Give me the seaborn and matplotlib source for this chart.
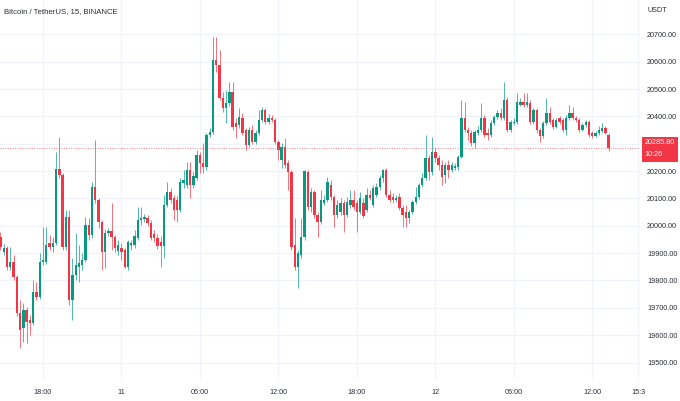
import numpy as np
import pandas as pd
import matplotlib
matplotlib.use('Agg')
import matplotlib.pyplot as plt
from matplotlib.patches import Rectangle
import seaborn as sns

# BTC/USDT 15m candles (index 0 = day 10, 14:45)
opens = [19959, 19904, 19918, 19849, 19867, 19812, 19681, 19626, 19692, 19655,
         19644, 19757, 19739, 19867, 19867, 19937, 19922, 19937, 20207, 20185,
         19922, 20032, 19728, 19820, 19849, 19856, 19874, 20002, 19966, 20141,
         20094, 20013, 19904, 19973, 19981, 19959, 19907, 19918, 19911, 19849,
         19929, 19929, 19955, 20021, 20024, 20028, 20010, 19970, 19955, 19940,
         19926, 20075, 20123, 20101, 20094, 20057, 20156, 20149, 20203, 20149,
         20174, 20258, 20229, 20214, 20332, 20343, 20606, 20587, 20467, 20430,
         20448, 20489, 20375, 20368, 20394, 20350, 20295, 20350, 20306, 20339,
         20386, 20423, 20379, 20394, 20386, 20306, 20240, 20288, 20229, 20196,
         19929, 19849, 19893, 19959, 20196, 20068, 20123, 20039, 20013, 20083,
         20094, 20149, 20105, 20039, 20050, 20083, 20039, 20075, 20094, 20083,
         20050, 20083, 20057, 20112, 20075, 20112, 20141, 20174, 20203, 20112,
         20105, 20094, 20105, 20065, 20050, 20028, 20050, 20086, 20105, 20149,
         20174, 20247, 20196, 20269, 20247, 20222, 20185, 20222, 20203, 20211,
         20214, 20251, 20394, 20350, 20339, 20302, 20339, 20350, 20394, 20339,
         20332, 20375, 20397, 20412, 20394, 20459, 20350, 20375, 20379, 20441,
         20452, 20441, 20448, 20379, 20423, 20350, 20328, 20375, 20412, 20386,
         20361, 20394, 20386, 20350, 20394, 20412, 20394, 20386, 20350, 20368,
         20379, 20339, 20328, 20339, 20346, 20357, 20332]
highs = [19977, 19933, 19926, 19922, 19893, 19820, 19728, 19717, 19703, 19673,
         19801, 19794, 19900, 19995, 19995, 19966, 19959, 20269, 20324, 20192,
         20057, 20057, 19882, 19973, 19929, 19900, 20032, 20028, 20160, 20313,
         20101, 20021, 19988, 19991, 20083, 19966, 19948, 19937, 19918, 19948,
         19948, 19984, 20068, 20068, 20043, 20039, 20021, 19984, 19970, 19962,
         20112, 20160, 20138, 20112, 20108, 20174, 20203, 20233, 20233, 20196,
         20277, 20269, 20302, 20339, 20357, 20690, 20690, 20642, 20489, 20496,
         20525, 20525, 20394, 20430, 20412, 20357, 20361, 20368, 20350, 20423,
         20434, 20430, 20408, 20405, 20394, 20313, 20302, 20321, 20240, 20203,
         20028, 19911, 20028, 20203, 20203, 20138, 20130, 20050, 20130, 20112,
         20178, 20167, 20112, 20094, 20101, 20094, 20105, 20130, 20130, 20094,
         20123, 20101, 20138, 20130, 20149, 20156, 20185, 20207, 20211, 20130,
         20119, 20112, 20119, 20075, 20075, 20057, 20094, 20141, 20156, 20192,
         20332, 20258, 20324, 20284, 20258, 20240, 20233, 20240, 20233, 20229,
         20258, 20459, 20452, 20361, 20350, 20350, 20364, 20448, 20405, 20357,
         20386, 20405, 20423, 20430, 20525, 20470, 20386, 20394, 20485, 20467,
         20485, 20485, 20459, 20430, 20430, 20357, 20383, 20467, 20434, 20394,
         20394, 20401, 20394, 20405, 20441, 20434, 20401, 20394, 20375, 20386,
         20386, 20346, 20346, 20364, 20375, 20364, 20339]
lows = [19911, 19893, 19838, 19838, 19801, 19670, 19553, 19575, 19571, 19600,
        19637, 19728, 19732, 19856, 19860, 19911, 19904, 19929, 20174, 19911,
        19911, 19710, 19655, 19801, 19794, 19838, 19867, 19948, 19955, 20083,
        19991, 19838, 19845, 19962, 19911, 19904, 19893, 19874, 19845, 19838,
        19911, 19918, 19948, 20002, 20013, 19999, 19948, 19940, 19915, 19849,
        19882, 20068, 20083, 20021, 20013, 20050, 20138, 20138, 20101, 20138,
        20167, 20192, 20192, 20203, 20324, 20335, 20562, 20459, 20416, 20375,
        20437, 20350, 20321, 20357, 20332, 20277, 20288, 20299, 20299, 20332,
        20379, 20372, 20372, 20379, 20299, 20240, 20211, 20211, 20130, 19911,
        19838, 19772, 19882, 19948, 20057, 20050, 20028, 19959, 20006, 20075,
        20086, 20094, 19995, 20028, 20039, 19977, 20032, 20065, 20057, 19977,
        20043, 20028, 20050, 20094, 20068, 20105, 20130, 20160, 20105, 20086,
        20083, 20086, 20057, 19995, 19995, 20010, 20043, 20079, 20097, 20141,
        20167, 20167, 20185, 20233, 20203, 20149, 20156, 20174, 20196, 20203,
        20203, 20247, 20343, 20313, 20291, 20284, 20332, 20343, 20324, 20313,
        20324, 20368, 20390, 20386, 20386, 20343, 20343, 20368, 20372, 20437,
        20434, 20434, 20372, 20372, 20339, 20306, 20321, 20368, 20372, 20353,
        20357, 20372, 20343, 20332, 20386, 20386, 20379, 20343, 20346, 20361,
        20324, 20321, 20324, 20332, 20339, 20335, 20273]
closes = [19922, 19918, 19849, 19867, 19812, 19681, 19618, 19692, 19648, 19644,
          19757, 19739, 19867, 19874, 19929, 19922, 19937, 20207, 20185, 19922,
          20032, 19728, 19820, 19856, 19863, 19874, 20002, 19966, 20141, 20094,
          20013, 19904, 19973, 19981, 19959, 19918, 19929, 19904, 19849, 19940,
          19937, 19962, 20021, 20028, 20032, 20010, 19955, 19955, 19926, 19926,
          20075, 20123, 20094, 20057, 20057, 20160, 20167, 20203, 20149, 20181,
          20258, 20229, 20214, 20332, 20343, 20606, 20587, 20467, 20430, 20448,
          20489, 20361, 20361, 20397, 20339, 20295, 20350, 20306, 20339, 20386,
          20423, 20379, 20394, 20386, 20306, 20277, 20288, 20222, 20196, 19922,
          19849, 19900, 19959, 20200, 20068, 20123, 20039, 20013, 20094, 20094,
          20160, 20105, 20039, 20075, 20083, 20039, 20086, 20094, 20068, 20050,
          20101, 20035, 20112, 20101, 20138, 20141, 20174, 20203, 20112, 20094,
          20094, 20101, 20065, 20039, 20028, 20050, 20086, 20105, 20149, 20174,
          20247, 20196, 20269, 20247, 20222, 20178, 20222, 20203, 20222, 20218,
          20251, 20394, 20350, 20339, 20302, 20343, 20350, 20394, 20332, 20332,
          20375, 20397, 20412, 20394, 20459, 20350, 20379, 20379, 20452, 20452,
          20441, 20452, 20379, 20423, 20350, 20328, 20375, 20412, 20379, 20361,
          20386, 20379, 20350, 20394, 20412, 20394, 20386, 20350, 20368, 20379,
          20332, 20328, 20339, 20350, 20357, 20339, 20285.8]

price_levels = [19500, 19600, 19700, 19800, 19900, 20000, 20100, 20200,
                20300, 20400, 20500, 20600, 20700]
time_ticks = [13, 37, 61, 85, 109, 133, 157, 181, 195]
time_labels = ['18:00', '11', '06:00', '12:00', '18:00', '12', '06:00', '12:00', '15:3']
last_price = 20285.80
countdown = '10:26'

UP, DOWN = '#089981', '#f23645'
TXT = '#2a2e39'
FS = 5.2

sns.set_theme(style='white')
plt.rcParams['font.family'] = ['Liberation Sans', 'DejaVu Sans']

df = pd.DataFrame({'open': opens, 'high': highs, 'low': lows, 'close': closes})
df['idx'] = np.arange(len(df))
df['up'] = df['close'] >= df['open']
df['color'] = np.where(df['up'], UP, DOWN)

W, H = 680, 401
fig = plt.figure(figsize=(W / 100, H / 100), dpi=100)
fig.patch.set_facecolor('white')
ax = fig.add_axes([0, 1 - 378 / H, 640 / W, 378 / H])
ax.set_facecolor('white')

# wicks then bodies
ax.vlines(df['idx'], df['low'], df['high'], colors=df['color'], linewidth=0.7, alpha=0.7, zorder=2)
body = (df['close'] - df['open']).abs().clip(lower=2.5)
ax.bar(df['idx'], body, bottom=df[['open', 'close']].min(axis=1), width=0.72,
       color=df['color'], linewidth=0, zorder=3)

ax.axhline(last_price, color=DOWN, linewidth=0.7, linestyle=(0, (1, 1.5)), alpha=0.6, zorder=1)

ax.set_xlim(-0.15, 195.6)
ax.set_ylim(19443.4, 20825.4)

ax.set_yticks(price_levels)
ax.set_yticklabels([f'{p:.2f}' for p in price_levels])
ax.yaxis.tick_right()
ax.set_xticks(time_ticks)
ax.set_xticklabels(time_labels)
ax.tick_params(axis='y', length=0, pad=5, labelsize=FS, labelcolor=TXT)
ax.tick_params(axis='x', length=0, pad=8, labelsize=FS, labelcolor=TXT)
ax.grid(True, color='#f0f3fa', linewidth=0.9, zorder=0)
sns.despine(ax=ax, left=True, bottom=True, right=True, top=True)

fig.text(4 / W, 1 - 12 / H, 'Bitcoin / TetherUS, 15, BINANCE', fontsize=5.6,
         color=TXT, va='center', ha='left')
fig.text(647 / W, 1 - 10 / H, 'USDT', fontsize=FS, color=TXT, va='center', ha='left')

# last price badge on the price scale
fig.patches.append(Rectangle((642 / W, 1 - 162 / H), 36 / W, 25 / H,
                             transform=fig.transFigure, facecolor=DOWN,
                             edgecolor='none', zorder=5))
fig.text(644.5 / W, 1 - 143 / H, f'{last_price:.2f}', fontsize=FS, color='white',
         va='center', ha='left', zorder=6)
fig.text(644.5 / W, 1 - 155 / H, countdown, fontsize=FS, color='white',
         va='center', ha='left', zorder=6)

fig.savefig('out.png', dpi=100, facecolor='white')
